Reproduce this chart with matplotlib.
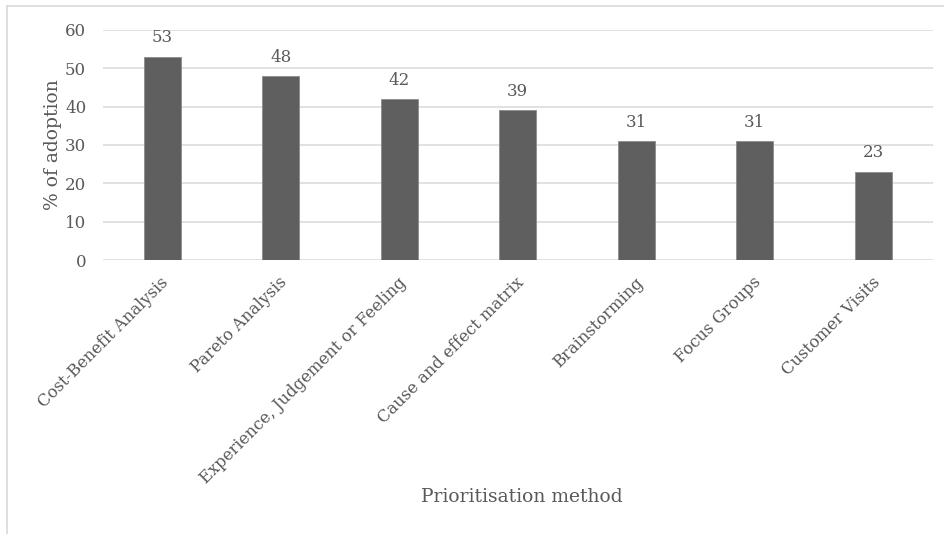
import matplotlib.pyplot as plt
from matplotlib.lines import Line2D
from matplotlib.transforms import ScaledTranslation

methods = ["Cost-Benefit Analysis", "Pareto Analysis", "Experience, Judgement or Feeling",
           "Cause and effect matrix", "Brainstorming", "Focus Groups", "Customer Visits"]
adoption = [53, 48, 42, 39, 31, 31, 23]
yticks = [0, 10, 20, 30, 40, 50, 60]

txt = "#595959"
grid = "#d9d9d9"
plt.rcParams["font.family"] = ["DejaVu Serif"]

fig = plt.figure(figsize=(9.44, 5.34), dpi=100)
ax = fig.add_axes([0.109, 0.513, 0.879, 0.431])

x = range(len(methods))
bars = ax.bar(x, adoption, width=0.31, color="#5f5f5f", edgecolor="#8c8c8c", linewidth=0.6, zorder=3)
for b, v in zip(bars, adoption):
    ax.annotate(str(v), (b.get_x() + b.get_width() / 2, v), xytext=(0, 7.5), textcoords="offset points",
                ha="center", va="bottom", fontsize=12, color=txt)

ax.set_xlim(-0.5, len(methods) - 0.5)
ax.set_ylim(0, 60)
ax.set_yticks(yticks)
ax.set_yticklabels([str(t) for t in yticks], fontsize=12, color=txt)
ax.yaxis.grid(True, color=grid, linewidth=1.1, zorder=0)
ax.set_axisbelow(True)
ax.tick_params(axis="y", length=0, pad=12)
for s in ax.spines.values():
    s.set_visible(False)

ax.set_xticks(list(x))
ax.set_xticklabels(methods, rotation=45, ha="right", va="top", rotation_mode="anchor",
                   fontsize=11.8, color=txt)
ax.tick_params(axis="x", length=0, pad=10)
# nudge the slanted category names a few pixels left
shift = ScaledTranslation(-2 / 100, 0, fig.dpi_scale_trans)
for lbl in ax.get_xticklabels():
    lbl.set_transform(lbl.get_transform() + shift)

ax.set_ylabel("% of adoption", fontsize=13.5, color=txt, labelpad=2)
fig.text(0.553, 0.07, "Prioritisation method", ha="center", va="center", fontsize=13.5, color=txt)

# light frame around the chart area
fig.add_artist(Line2D([0.0075, 0.0075], [0, 0.989], color=grid, linewidth=1.2, transform=fig.transFigure))
fig.add_artist(Line2D([0.0075, 1.0], [0.989, 0.989], color=grid, linewidth=1.2, transform=fig.transFigure))

fig.savefig("out.png", dpi=100)
